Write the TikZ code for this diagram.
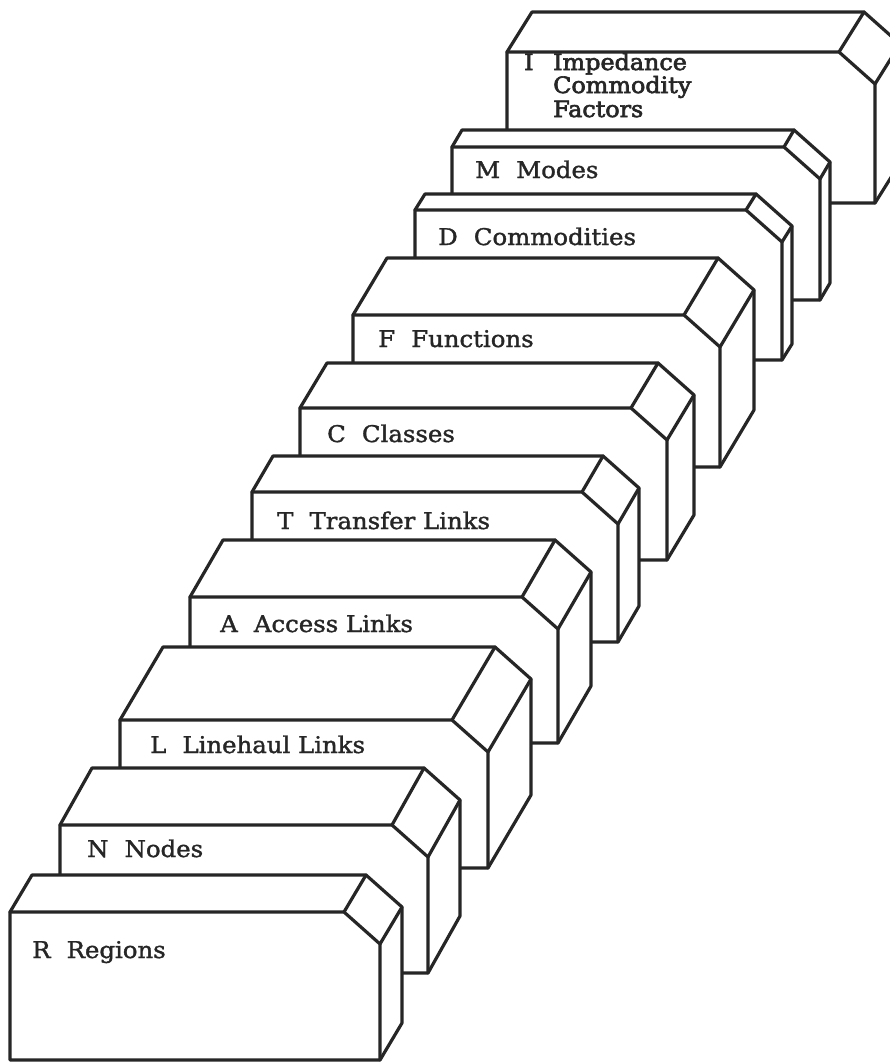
\documentclass[tikz,border=0pt]{standalone}
\usepackage{fontspec}
\setmainfont{DejaVu Serif}[FakeStretch=1.06, FakeBold=1.5]
\newfontfamily\heavyserif{DejaVu Serif}[FakeStretch=1.06, FakeBold=2.8]
\definecolor{ink}{gray}{0.15}

% A file card drawn as a box with a chamfered top-right edge.
% #1 name, #2 left, #3 top, #4 right, #5 bottom, #6/#7 depth offset (right, up)
\newcommand\drawcard[7]{%
  \coordinate (#1-p)  at (#2,#3);
  \coordinate (#1-q)  at ({#2+#6},{#3-#7});
  \coordinate (#1-a)  at ({#4-36},#3);
  \coordinate (#1-b)  at (#4,{#3+32});
  \coordinate (#1-a2) at ({#4-36+#6},{#3-#7});
  \coordinate (#1-b2) at ({#4+#6},{#3+32-#7});
  \coordinate (#1-c)  at (#4,#5);
  \coordinate (#1-c2) at ({#4+#6},{#5-#7});
  \coordinate (#1-d)  at (#2,#5);
  \path[cardface] (#1-p) -- (#1-q) -- (#1-a2) -- (#1-b2) -- (#1-c2) -- (#1-c) -- (#1-d) -- cycle;
  \draw[edge] (#1-p) -- (#1-a) -- (#1-b) -- (#1-c);
  \draw[edge] (#1-a) -- (#1-a2);
  \draw[edge] (#1-b) -- (#1-b2);
}

\begin{document}
\begin{tikzpicture}[x=1pt,y=-1pt,
  edge/.style={line width=3.2pt, line join=round, line cap=round, draw=ink},
  cardface/.style={edge, fill=white},
  cardlabel/.style={anchor=base west, inner sep=0pt, text=ink,
                    font=\fontsize{23}{27}\selectfont},
  heavylabel/.style={cardlabel, font=\heavyserif\fontsize{22.5}{27}\selectfont}]
\useasboundingbox (0,0) rectangle (890,1063);
\clip (0,0) rectangle (890,1063);

% back to front
\drawcard{I}{507}{52}{875}{203}{25}{40}
\node[heavylabel] (lblI)  at (524,70)  {I};
\node[heavylabel] (lblI1) at (553,70)  {Impedance};
\node[heavylabel] (lblI2) at (553,93)  {Commodity};
\node[heavylabel] (lblI3) at (553,117) {Factors};

\drawcard{M}{452}{147}{820}{300}{10}{17}
\node[cardlabel] (lblM) at (475,178) {M\hspace{0.7em}Modes};

\drawcard{D}{415}{210}{782}{360}{10}{16}
\node[cardlabel] (lblD) at (438,245) {D\hspace{0.7em}Commodities};

\drawcard{F}{353}{315}{720}{467}{34}{57}
\node[cardlabel] (lblF) at (378,347) {F\hspace{0.7em}Functions};

\drawcard{C}{300}{408}{667}{560}{27}{45}
\node[cardlabel] (lblC) at (327,442) {C\hspace{0.7em}Classes};

\drawcard{T}{252}{492}{618}{642}{21}{36}
\node[cardlabel] (lblT) at (277,529) {T\hspace{0.7em}Transfer Links};

\drawcard{A}{190}{597}{558}{743}{33}{57}
\node[cardlabel] (lblA) at (220,632) {A\hspace{0.7em}Access Links};

\drawcard{L}{120}{720}{488}{868}{43}{73}
\node[cardlabel] (lblL) at (150,753) {L\hspace{0.7em}Linehaul Links};

\drawcard{N}{60}{825}{428}{973}{32}{57}
\node[cardlabel] (lblN) at (87,857) {N\hspace{0.7em}Nodes};

\drawcard{R}{10}{912}{380}{1060}{22}{37}
\node[cardlabel] (lblR) at (32,958) {R\hspace{0.7em}Regions};
\end{tikzpicture}
\end{document}
